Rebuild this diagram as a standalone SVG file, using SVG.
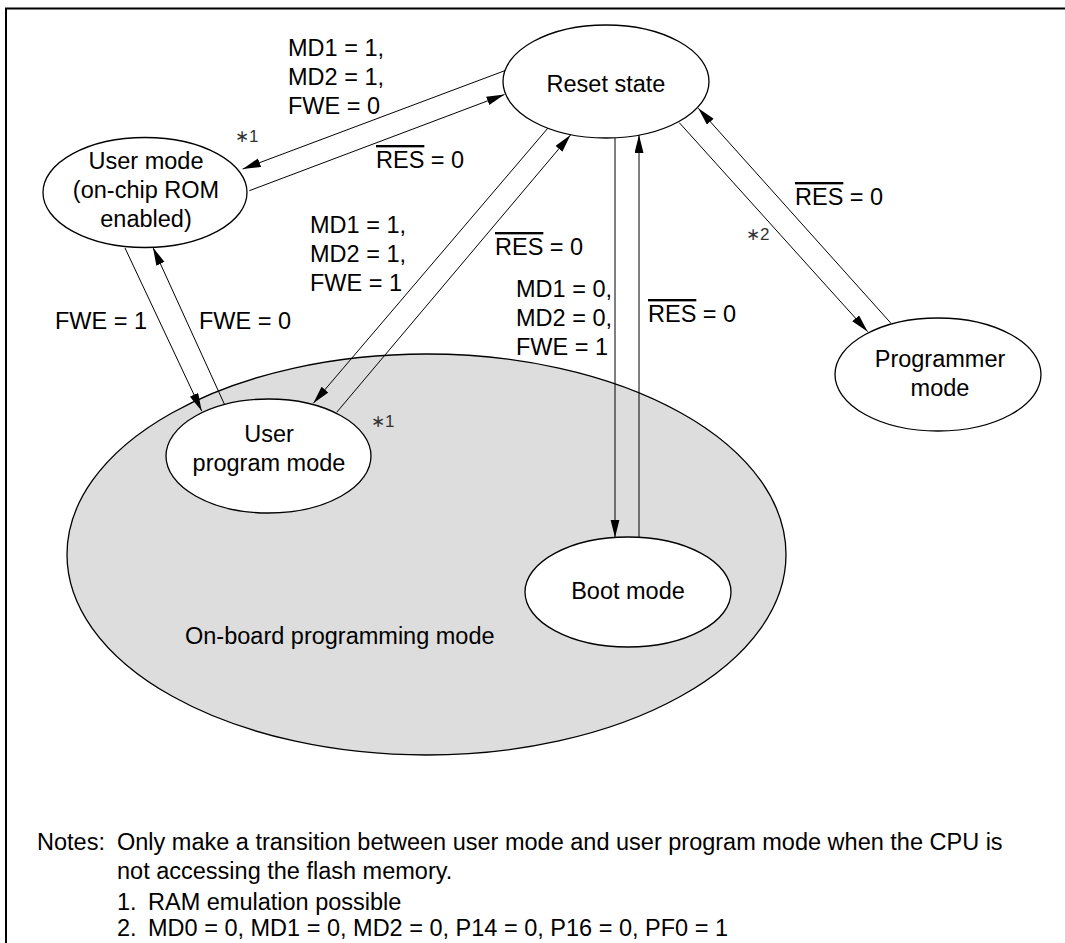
<svg xmlns="http://www.w3.org/2000/svg" width="1065" height="943" viewBox="0 0 1065 943">
<defs>
<marker id="arr" markerUnits="userSpaceOnUse" markerWidth="18" markerHeight="10" refX="18" refY="4.5" orient="auto">
<path d="M0,0 L18,4.5 L0,9 z" fill="#000"/>
</marker>
<style>
text{font-family:"Liberation Sans",Arial,sans-serif;fill:#000}
.lbl{font-size:23.5px}
.ctr{text-anchor:middle}
.star{font-size:17px;fill:#333}
.note{font-size:23.5px}
.node{fill:#fff;stroke:#000;stroke-width:1.3}
.conn line{stroke:#000;stroke-width:1;marker-end:url(#arr)}
.ov{text-decoration:overline}
</style>
</defs>
<rect width="1065" height="943" fill="#fff"/>
<path d="M6,943 V8.5 H1065" fill="none" stroke="#000" stroke-width="2"/>

<g id="onboard">
<ellipse cx="426.5" cy="554.5" rx="359.5" ry="200.5" fill="#dddddd" stroke="#000" stroke-width="1.3"/>
<text class="lbl" x="185" y="644">On-board programming mode</text>
</g>

<g id="reset">
<ellipse class="node" cx="606" cy="81.5" rx="103" ry="56.5"/>
<text class="lbl ctr" x="606" y="92">Reset state</text>
</g>

<g id="usermode">
<ellipse class="node" cx="145" cy="192.5" rx="102" ry="55"/>
<text class="lbl ctr" x="146" y="169">User mode</text>
<text class="lbl ctr" x="146" y="198">(on-chip ROM</text>
<text class="lbl ctr" x="146" y="227">enabled)</text>
</g>

<g id="userprog">
<ellipse class="node" cx="268.5" cy="456" rx="102.5" ry="57"/>
<text class="lbl ctr" x="269" y="442">User</text>
<text class="lbl ctr" x="269" y="471">program mode</text>
</g>

<g id="boot">
<ellipse class="node" cx="628" cy="592" rx="103" ry="55"/>
<text class="lbl ctr" x="628" y="599">Boot mode</text>
</g>

<g id="programmer">
<ellipse class="node" cx="938" cy="374.5" rx="103" ry="56.5"/>
<text class="lbl ctr" x="940" y="367">Programmer</text>
<text class="lbl ctr" x="940" y="396">mode</text>
</g>

<g id="connectors" class="conn">
<line x1="505" y1="70.6" x2="242.7" y2="169"/>
<line x1="249.3" y1="190.7" x2="504.5" y2="94.5"/>
<line x1="548" y1="128" x2="313.3" y2="403.3"/>
<line x1="336.7" y1="412.3" x2="570.5" y2="135"/>
<line x1="615" y1="138" x2="615" y2="537.5"/>
<line x1="639" y1="537.6" x2="639" y2="135"/>
<line x1="679.3" y1="122.7" x2="867.7" y2="331.7"/>
<line x1="891" y1="323.3" x2="698.3" y2="108.3"/>
<line x1="125" y1="248" x2="201.7" y2="411"/>
<line x1="224.3" y1="404" x2="153" y2="247.5"/>
</g>

<g id="labels">
<text class="lbl" x="288" y="56">MD1 = 1,</text>
<text class="lbl" x="288" y="85">MD2 = 1,</text>
<text class="lbl" x="288" y="114">FWE = 0</text>
<text class="star" x="235" y="142">∗1</text>
<text class="lbl" x="376" y="168"><tspan class="ov">RES</tspan> = 0</text>
<text class="lbl" x="310" y="233">MD1 = 1,</text>
<text class="lbl" x="310" y="262">MD2 = 1,</text>
<text class="lbl" x="310" y="291">FWE = 1</text>
<text class="lbl" x="495" y="255"><tspan class="ov">RES</tspan> = 0</text>
<text class="lbl" x="516" y="297">MD1 = 0,</text>
<text class="lbl" x="516" y="326">MD2 = 0,</text>
<text class="lbl" x="516" y="355">FWE = 1</text>
<text class="lbl" x="648" y="322"><tspan class="ov">RES</tspan> = 0</text>
<text class="lbl" x="795" y="205"><tspan class="ov">RES</tspan> = 0</text>
<text class="star" x="746" y="240">∗2</text>
<text class="lbl" x="55" y="329">FWE = 1</text>
<text class="lbl" x="199" y="329">FWE = 0</text>
<text class="star" x="371" y="427">∗1</text>
</g>

<g id="notes">
<text class="note" x="37" y="850">Notes:</text>
<text class="note" x="117" y="850">Only make a transition between user mode and user program mode when the CPU is</text>
<text class="note" x="117" y="879">not accessing the flash memory.</text>
<text class="note" x="117" y="910">1.</text>
<text class="note" x="148" y="910">RAM emulation possible</text>
<text class="note" x="117" y="936">2.</text>
<text class="note" x="148" y="936">MD0 = 0, MD1 = 0, MD2 = 0, P14 = 0, P16 = 0, PF0 = 1</text>
</g>
</svg>
